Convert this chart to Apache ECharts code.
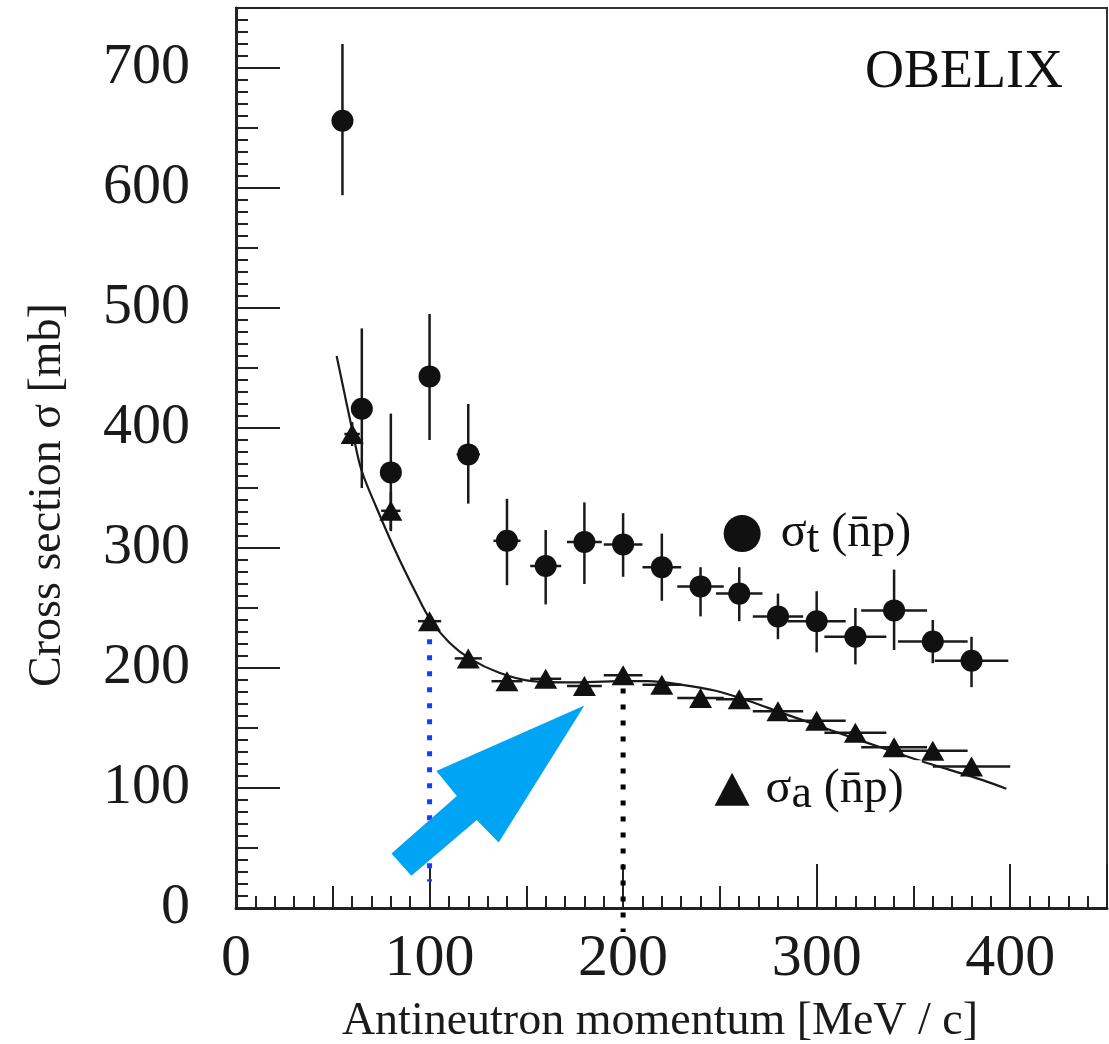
<!DOCTYPE html>
<html><head><meta charset="utf-8">
<script src="https://cdn.jsdelivr.net/npm/echarts@6/dist/echarts.min.js"></script>
<style>html,body{margin:0;padding:0;background:#fff}#c{width:1109px;height:1044px}</style>
</head><body><div id="c"></div>
<script>
const FONT = '"Liberation Serif", "Times New Roman", serif';
const INK = '#1a1a1a';

// sigma_t (total) data
const tMomentum = [55, 65, 80, 100, 120, 140, 160, 180, 200, 220, 240, 260, 280, 300, 320, 340, 360, 380];
const tSigma    = [656, 416, 363, 443, 378, 306, 285, 305, 303, 284, 268, 262, 243, 239, 226, 248, 222, 206];
const tErrHigh  = [720, 483, 412, 495, 420, 341, 315, 338, 329, 312, 284, 284, 262, 264, 250, 282, 240, 226];
const tErrLow   = [594, 350, 314, 390, 337, 269, 253, 270, 276, 256, 243, 239, 224, 213, 203, 215, 204, 184];
const tErrX     = [3, 3, 4, 5, 6, 7, 8, 9, 10, 10, 12, 12, 13, 15, 16, 17, 18, 19];

// sigma_a (annihilation) data
const aMomentum = [60, 80, 100, 120, 140, 160, 180, 200, 220, 240, 260, 280, 300, 320, 340, 360, 380];
const aSigma    = [395, 331, 239, 208, 189, 191, 185, 194, 186, 175, 174, 164, 156, 146, 134, 131, 118];
const aErr      = [10, 16, 5, 5, 4, 4, 4, 4, 4, 4, 4, 4, 4, 4, 4, 4, 4];
const aErrX     = [4, 5, 6, 7, 8, 8, 9, 10, 10, 12, 12, 13, 15, 16, 17, 18, 20];

// fitted curve
const curveMomentum = [52, 60.5, 64.8, 72.5, 82.8, 93.1, 100.5, 110.3, 120.6, 136, 153, 170.5, 200, 213, 230.5, 247.8, 265, 282, 299, 316.5, 333.7, 351, 368, 385, 398];
const curveSigma    = [460, 395, 365, 334, 296, 262, 240, 221, 208, 196, 189, 188, 189, 189, 186, 181, 172.5, 162.6, 153, 143, 133.5, 124, 115.5, 107, 99.4];

// annotations (data coordinates)
const blueLineX = [100, 100];
const blueLineY = [224, 22];
const blackLineX = [200, 200];
const blackLineY = [183, -20];
const arrowX = [180, 135.7, 124.4, 90.6, 80.3, 114.1, 103.5];
const arrowY = [168.7, 54.6, 73.4, 26.8, 45.5, 93.4, 114.1];

// legend anchors (data coordinates)
const legendT = [261.5, 312];
const legendA = [256.3, 99];

const chart = echarts.init(document.getElementById('c'));

function errRender(params, api) {
  const x = api.value(0), lo = api.value(1), hi = api.value(2), dx = api.value(3), y = api.value(4);
  const pLo = api.coord([x, lo]), pHi = api.coord([x, hi]);
  const pL = api.coord([x - dx, y]), pR = api.coord([x + dx, y]);
  return {type: 'group', children: [
    {type: 'line', shape: {x1: pLo[0], y1: pLo[1], x2: pHi[0], y2: pHi[1]}, style: {stroke: INK, lineWidth: 2.5}},
    {type: 'line', shape: {x1: pL[0], y1: pL[1], x2: pR[0], y2: pR[1]}, style: {stroke: INK, lineWidth: 2.5}}
  ]};
}

const tErrData = tMomentum.map((m, i) => [m, tErrLow[i], tErrHigh[i], tErrX[i], tSigma[i]]);
const aErrData = aMomentum.map((m, i) => [m, aSigma[i] - aErr[i], aSigma[i] + aErr[i], aErrX[i], aSigma[i]]);

const legendRich = {
  a: {fontFamily: FONT, fontSize: 48, color: '#111', lineHeight: 58},
  b: {fontFamily: FONT, fontSize: 46, color: '#111', lineHeight: 44, verticalAlign: 'bottom'}
};

const axisCommon = {
  type: 'value', min: 0, splitLine: {show: false}
};

const option = {
  backgroundColor: '#fff',
  animation: false,
  grid: {left: 236, top: 8, right: 2, bottom: 136, show: true, borderColor: '#333', borderWidth: 2,
         containLabel: false, outerBoundsMode: 'none'},
  xAxis: [
    Object.assign({}, axisCommon, {
      max: 450, interval: 100, position: 'bottom',
      axisLine: {show: true, lineStyle: {color: '#222', width: 3}},
      axisTick: {show: true, inside: true, length: 44, lineStyle: {color: '#222', width: 2}},
      axisLabel: {fontFamily: FONT, fontSize: 60, color: INK, margin: 21,
        formatter: v => v > 400 ? '' : String(v)}
    }),
    Object.assign({}, axisCommon, {
      max: 450, interval: 50, position: 'bottom',
      axisLine: {show: false},
      axisTick: {show: true, inside: true, length: 22, lineStyle: {color: '#222', width: 2}},
      minorTick: {show: true, splitNumber: 5, length: 12, lineStyle: {color: '#222', width: 2}},
      axisLabel: {show: false}
    })
  ],
  yAxis: [
    Object.assign({}, axisCommon, {
      max: 750, interval: 100, position: 'left',
      axisLine: {show: true, lineStyle: {color: '#222', width: 3}},
      axisTick: {show: true, inside: true, length: 44, lineStyle: {color: '#222', width: 2}},
      axisLabel: {fontFamily: FONT, fontSize: 58, color: INK, margin: 46,
        formatter: v => v > 700 ? '' : String(v)}
    }),
    Object.assign({}, axisCommon, {
      max: 750, interval: 50, position: 'left',
      axisLine: {show: false},
      axisTick: {show: true, inside: true, length: 22, lineStyle: {color: '#222', width: 2}},
      minorTick: {show: true, splitNumber: 5, length: 12, lineStyle: {color: '#222', width: 2}},
      axisLabel: {show: false}
    })
  ],
  graphic: [
    {type: 'text', left: 865, top: 46, z: 100,
     style: {text: 'OBELIX', fontFamily: FONT, fontSize: 54, fill: '#111'}},
    {type: 'text', x: 48, y: 495, rotation: Math.PI / 2, z: 100,
     style: {text: 'Cross section σ [mb]', fontFamily: FONT, fontSize: 46, fill: INK, align: 'center', verticalAlign: 'middle'}},
    {type: 'text', x: 660, y: 1022, z: 100,
     style: {text: 'Antineutron momentum [MeV / c]', fontFamily: FONT, fontSize: 46, fill: INK, align: 'center', verticalAlign: 'middle'}}
  ],
  series: [
    {type: 'custom', name: 'tErr', renderItem: errRender, data: tErrData, encode: {x: 0, y: [1, 2]}, z: 2},
    {type: 'custom', name: 'aErr', renderItem: errRender, data: aErrData, encode: {x: 0, y: [1, 2]}, z: 2},
    {type: 'line', name: 'fit', data: curveMomentum.map((m, i) => [m, curveSigma[i]]),
     smooth: 0.35, symbol: 'none', lineStyle: {color: INK, width: 2.2}, z: 3},
    {type: 'scatter', name: 'σt', data: tMomentum.map((m, i) => [m, tSigma[i]]),
     symbol: 'circle', symbolSize: 22, itemStyle: {color: '#111', opacity: 1}, z: 4},
    {type: 'scatter', name: 'σa', data: aMomentum.map((m, i) => [m, aSigma[i]]),
     symbol: 'triangle', symbolSize: [23, 20], itemStyle: {color: '#111', opacity: 1}, z: 4},
    {type: 'scatter', name: 'legendT', data: [legendT], symbol: 'circle', symbolSize: 37,
     itemStyle: {color: '#111', opacity: 1}, z: 10,
     label: {show: true, position: 'right', distance: 20, color: '#111', formatter: '{a|σ}{b|t}{a| (n\u0304p)}', rich: legendRich}},
    {type: 'scatter', name: 'legendA', data: [legendA], symbol: 'triangle', symbolSize: [35, 33],
     itemStyle: {color: '#111', opacity: 1}, z: 10,
     label: {show: true, position: 'right', distance: 12, color: '#111', formatter: '{a|σ}{b|a}{a| (n\u0304p)}', rich: legendRich,
       backgroundColor: '#fff', padding: [0, 18, 0, 4]}},
    {type: 'line', name: 'blueLine', data: blueLineX.map((x, i) => [x, blueLineY[i]]), symbol: 'none',
     lineStyle: {color: '#1a3cff', width: 5, type: [5, 11]}, z: 6, clip: false},
    {type: 'line', name: 'blackLine', data: blackLineX.map((x, i) => [x, blackLineY[i]]), symbol: 'none',
     lineStyle: {color: '#000', width: 5, type: [5, 11]}, z: 6, clip: false},
    {type: 'custom', name: 'arrow', data: [[arrowX[0], arrowY[0]]], z: 8, clip: false,
     renderItem: function (params, api) {
       const pts = arrowX.map((x, i) => api.coord([x, arrowY[i]]));
       return {type: 'polygon', shape: {points: pts}, style: {fill: '#00a4f4'}};
     }}
  ]
};
chart.setOption(option);
</script>
</body></html>
